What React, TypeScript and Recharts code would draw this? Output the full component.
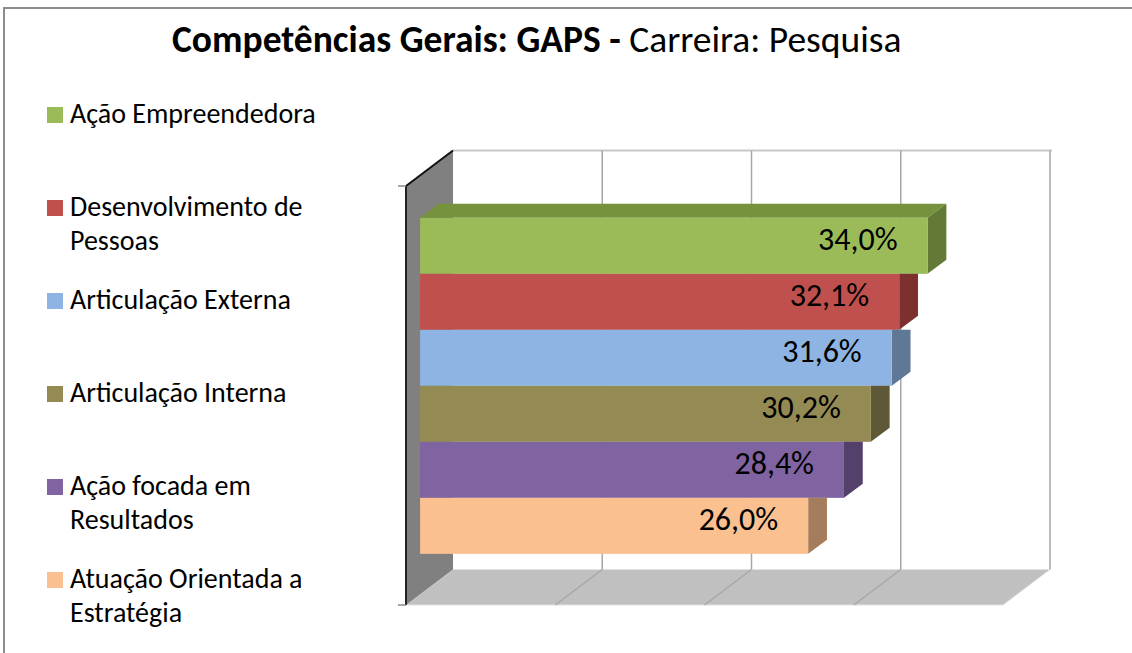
import { BarChart, Bar, XAxis, YAxis, CartesianGrid } from "recharts";

// series: one bar per competência
const competencias = [
  "Ação Empreendedora",
  "Desenvolvimento de Pessoas",
  "Articulação Externa",
  "Articulação Interna",
  "Ação focada em Resultados",
  "Atuação Orientada a Estratégia",
];
const valores = [34.0, 32.1, 31.6, 30.2, 28.4, 26.0];
const carreiras = ["Pesquisa"];
const eixoTicks = [0, 10, 20, 30, 40];

const tituloNegrito = "Competências Gerais: GAPS -";
const tituloNormal = " Carreira: Pesquisa";

const frente = ["#9BBB59", "#C0504D", "#8DB4E2", "#948A54", "#8064A2", "#FAC090"];
const lateral = ["#627A36", "#7E302E", "#5E7895", "#5F5837", "#54416B", "#A57D5C"];
const topo = ["#76923C", "#9A3D3B", "#7190B5", "#7A7245", "#684F86", "#C99A73"];

const FONT = "Carlito, Calibri, Lato, 'Open Sans', sans-serif";

// 3D box geometry (front plane of the walls, depth vector)
const W = 1132;
const H = 653;
const FX0 = 406;
const FTOP = 186;
const FBOT = 605;
const PLOT_W = 597;
const DX = 47;
const DY = -35.5;
const D0 = 0.3; // bars start at this depth
const D1 = 0.7; // and end here

const barLeft = FX0 + D0 * DX;
const barTop = FTOP + D0 * DY;
const barBottom = FBOT + D0 * DY;

const row: Record<string, number | string> = { carreira: carreiras[0] };
competencias.forEach((c, i) => {
  row[c] = valores[i];
});
const data = [row];

const fmt = (v: number) => v.toFixed(1).replace(".", ",") + "%";

function wrap(text: string, max: number) {
  const lines: string[] = [];
  let cur = "";
  text.split(" ").forEach((w) => {
    const next = cur ? cur + " " + w : w;
    if (next.length > max && cur) {
      lines.push(cur);
      cur = w;
    } else cur = next;
  });
  if (cur) lines.push(cur);
  return lines;
}

function Bar3D(props: any) {
  const { x, y, width, height, idx } = props;
  const dx = (D1 - D0) * DX;
  const dy = (D1 - D0) * DY;
  const xe = x + width;
  const yb = y + height;
  const side =
    idx === 0
      ? `${xe},${y} ${xe + dx},${y + dy} ${xe + dx},${yb + dy} ${xe},${yb}`
      : `${xe},${y} ${xe + dx},${y} ${xe + dx},${yb + dy} ${xe},${yb}`;
  return (
    <g>
      {idx === 0 && (
        <polygon
          points={`${x},${y} ${x + dx},${y + dy} ${xe + dx},${y + dy} ${xe},${y}`}
          fill={topo[idx]}
        />
      )}
      <polygon points={side} fill={lateral[idx]} />
      <rect x={x} y={y} width={width} height={height} fill={frente[idx]} />
      <text
        x={xe - 30}
        y={y + height / 2 - 6}
        textAnchor="end"
        dominantBaseline="central"
        fontFamily={FONT}
        fontSize={32}
        fill="#000"
      >
        {fmt(valores[idx])}
      </text>
    </g>
  );
}

function gridLine(p: any) {
  const x = Math.min(p.x1, p.x2);
  if (Math.abs(x - barLeft) < 1) return <g key={p.key} />;
  const shiftX = (1 - D0) * DX;
  const shiftY = (1 - D0) * DY;
  const xb = x + shiftX;
  const yt = Math.min(p.y1, p.y2) + shiftY;
  const yb = Math.max(p.y1, p.y2) + shiftY;
  const last = x > barLeft + PLOT_W - 1;
  return (
    <g key={p.key}>
      <line x1={xb} y1={yt} x2={xb} y2={yb} stroke="#A6A6A6" strokeWidth={1.5} />
      {!last && (
        <line x1={xb} y1={yb} x2={xb - DX} y2={yb - DY} stroke="#A6A6A6" strokeWidth={1.2} />
      )}
    </g>
  );
}

function Background() {
  const bx0 = FX0 + DX;
  const btop = FTOP + DY;
  const bbot = FBOT + DY;
  return (
    <svg width={W} height={H} style={{ position: "absolute", left: 0, top: 0 }}>
      <rect x={0} y={0} width={W} height={H} fill="#fff" />
      <line x1={3} y1={8} x2={W} y2={8} stroke="#8C8C8C" strokeWidth={2} />
      <line x1={4} y1={8} x2={4} y2={H} stroke="#8C8C8C" strokeWidth={2} />
      <text x={172} y={52} fontFamily={FONT} fontSize={37.5} fill="#000">
        <tspan fontWeight="bold">{tituloNegrito}</tspan>
        <tspan>{tituloNormal}</tspan>
      </text>
      {competencias.map((c, i) => {
        const base = 123 + i * 93;
        return (
          <g key={c}>
            <rect x={47} y={base - 16} width={16} height={16} fill={frente[i]} />
            <text fontFamily={FONT} fontSize={28} fill="#000">
              {wrap(c, 19).map((l, k) => (
                <tspan key={k} x={70} y={base + k * 34}>
                  {l}
                </tspan>
              ))}
            </text>
          </g>
        );
      })}
      {/* floor */}
      <polygon
        points={`${FX0},${FBOT} ${bx0},${bbot} ${bx0 + PLOT_W},${bbot} ${FX0 + PLOT_W},${FBOT}`}
        fill="#C0C0C0"
        stroke="#E2E2E2"
        strokeWidth={1}
      />
      {/* back wall top edge */}
      <line x1={bx0} y1={btop} x2={bx0 + PLOT_W + 2} y2={btop} stroke="#C8C8C8" strokeWidth={2} />
      {/* left wall */}
      <polygon
        points={`${FX0},${FTOP} ${bx0},${btop} ${bx0},${bbot} ${FX0},${FBOT}`}
        fill="#808080"
      />
      <line x1={FX0} y1={FTOP} x2={bx0} y2={btop} stroke="#111" strokeWidth={2} />
      <line x1={FX0} y1={FTOP} x2={FX0} y2={FBOT} stroke="#222" strokeWidth={2} />
      <line x1={FX0 - 8} y1={FTOP} x2={FX0} y2={FTOP} stroke="#888" strokeWidth={1.5} />
      <line x1={FX0 - 8} y1={FBOT} x2={FX0} y2={FBOT} stroke="#888" strokeWidth={1.5} />
    </svg>
  );
}

export default function App() {
  return (
    <div style={{ position: "absolute", left: 0, top: 0, width: W, height: H }}>
      <Background />
      <div style={{ position: "absolute", left: 0, top: 0 }}>
        <BarChart
          width={W}
          height={H}
          data={data}
          layout="vertical"
          margin={{
            top: barTop,
            bottom: H - barBottom,
            left: barLeft,
            right: W - barLeft - PLOT_W,
          }}
          barCategoryGap={42.5}
          barGap={0}
        >
          <CartesianGrid horizontal={false} vertical={gridLine} />
          <XAxis type="number" domain={[0, 40]} ticks={eixoTicks} hide />
          <YAxis type="category" dataKey="carreira" hide />
          {competencias.map((c, i) => (
            <Bar
              key={c}
              dataKey={c}
              isAnimationActive={false}
              shape={(p: any) => <Bar3D {...p} idx={i} />}
            />
          ))}
        </BarChart>
      </div>
    </div>
  );
}
